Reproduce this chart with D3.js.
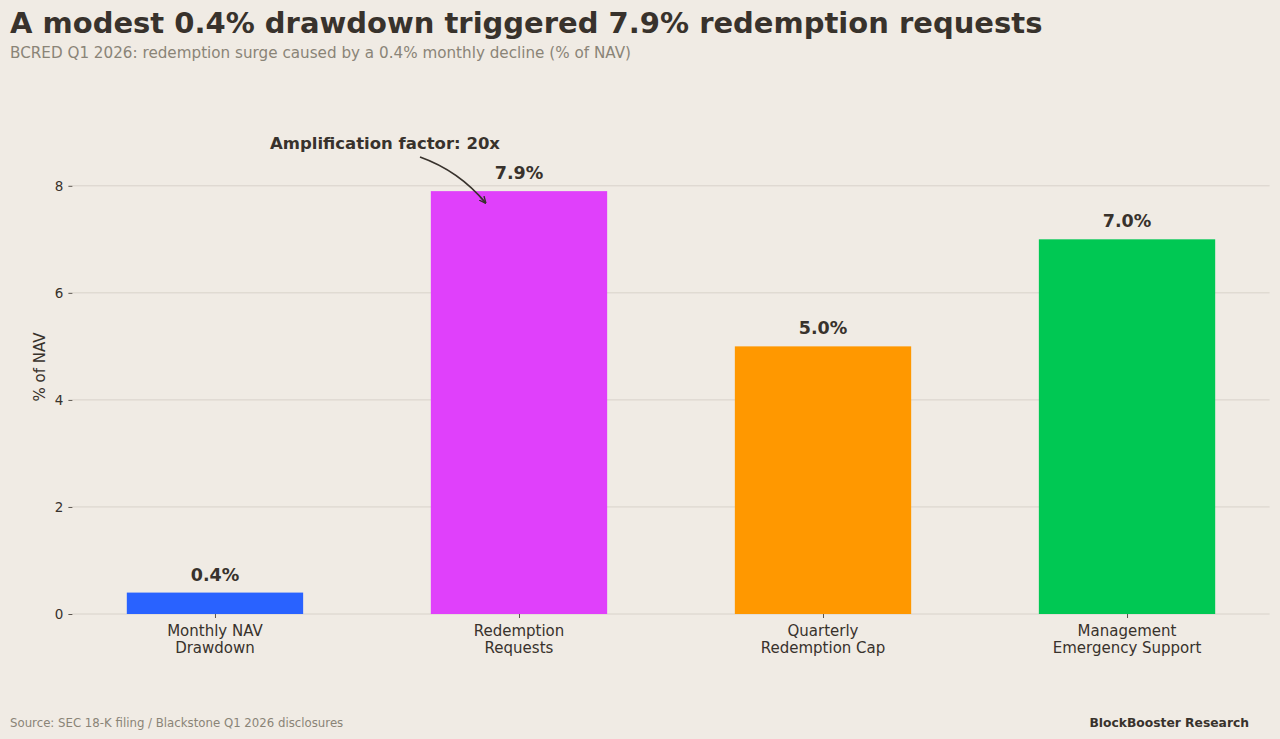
<!DOCTYPE html>
<html><head><meta charset="utf-8">
<script src="https://cdn.jsdelivr.net/npm/d3@7/dist/d3.min.js"></script>
<style>
html,body{margin:0;padding:0;background:#f0ebe4;}
svg{display:block;font-family:"DejaVu Sans",sans-serif;}
</style></head><body>
<svg id="c" width="1280" height="739"></svg>
<script>
const categories = ["Monthly NAV\nDrawdown", "Redemption\nRequests", "Quarterly\nRedemption Cap", "Management\nEmergency Support"];
const values = [0.4, 7.9, 5.0, 7.0];
const colors = ["#2962ff", "#e040fb", "#ff9800", "#00c853"];
const yTicks = [0, 2, 4, 6, 8];
const valueLabels = ["0.4%", "7.9%", "5.0%", "7.0%"];

(function () {
const svg = d3.select("#c");
const W = 1280, H = 739;
const pL = 72.4, pR = 1269.6, pT = 170, pB = 614;
const ink = "#38322c";

svg.append("rect").attr("width", W).attr("height", H).attr("fill", "#f0ebe4");

const barW = 0.58;
const xs = d3.scaleLinear().domain([-0.469, 3.469]).range([pL, pR]);
const y = d3.scaleLinear().domain([0, 8.295]).range([pB, pT]);

// gridlines
svg.append("g").selectAll("line").data(yTicks).join("line")
  .attr("x1", pL).attr("x2", pR)
  .attr("y1", d => y(d)).attr("y2", d => y(d))
  .attr("stroke", "#d8d2ca").attr("stroke-width", 1);

// y axis
const yAxis = d3.axisLeft(y).tickValues(yTicks).tickSize(4).tickPadding(5).tickFormat(d3.format("d"));
const gy = svg.append("g").attr("transform", `translate(${pL},0)`).call(yAxis);
gy.select(".domain").remove();
gy.selectAll(".tick line").attr("stroke", "#5a544d").attr("stroke-width", 1);
gy.selectAll(".tick text").attr("fill", ink).attr("font-size", 13.5).attr("font-family", "DejaVu Sans");

// bars
svg.append("g").selectAll("rect").data(values).join("rect")
  .attr("x", (d, i) => xs(i - barW / 2))
  .attr("width", (d, i) => xs(i + barW / 2) - xs(i - barW / 2))
  .attr("y", d => y(d))
  .attr("height", d => y(0) - y(d))
  .attr("fill", (d, i) => colors[i]);

// x axis
const xAxis = d3.axisBottom(xs).tickValues([0, 1, 2, 3]).tickSize(4).tickFormat("");
const gx = svg.append("g").attr("transform", `translate(0,${pB})`).call(xAxis);
gx.select(".domain").remove();
gx.selectAll(".tick line").attr("stroke", "#5a544d");
categories.forEach((c, i) => {
  const t = svg.append("text").attr("text-anchor", "middle").attr("fill", ink)
    .attr("font-size", 15).attr("x", xs(i));
  c.split("\n").forEach((ln, j) => {
    t.append("tspan").attr("x", xs(i)).attr("y", 636 + j * 17).text(ln);
  });
});

// value labels
svg.append("g").selectAll("text").data(values).join("text")
  .attr("x", (d, i) => xs(i)).attr("y", d => y(d) - 12)
  .attr("text-anchor", "middle").attr("font-weight", "bold").attr("font-size", 17.5)
  .attr("fill", ink).text((d, i) => valueLabels[i]);

// y label
svg.append("text").attr("transform", `translate(45,367) rotate(-90)`)
  .attr("text-anchor", "middle").attr("font-size", 15).attr("fill", ink).text("% of NAV");

// annotation
svg.append("text").attr("x", 270).attr("y", 149).attr("font-weight", "bold")
  .attr("font-size", 16.5).attr("fill", ink).text("Amplification factor: 20x");
const ax0 = 420, ay0 = 157, ax1 = xs(0.89), ay1 = y(7.68);
svg.append("defs").append("marker").attr("id", "ah").attr("viewBox", "0 0 10 10")
  .attr("refX", 9).attr("refY", 5).attr("markerWidth", 7).attr("markerHeight", 7)
  .attr("markerUnits", "userSpaceOnUse")
  .attr("orient", "auto-start-reverse").append("path")
  .attr("d", "M0,0.5 L10,5 L0,9.5").attr("fill", "none").attr("stroke", ink).attr("stroke-width", 2);
const mx = (ax0 + ax1) / 2, my = (ay0 + ay1) / 2;
const dx = ax1 - ax0, dy = ay1 - ay0, L = Math.hypot(dx, dy);
const cx = mx + (dy / L) * 11, cy = my - (dx / L) * 11;
svg.append("path")
  .attr("d", `M${ax0},${ay0} Q${cx},${cy} ${ax1},${ay1}`)
  .attr("fill", "none").attr("stroke", ink).attr("stroke-width", 1.8).attr("marker-end", "url(#ah)");

// titles
svg.append("text").attr("x", 10).attr("y", 33).attr("font-weight", "bold").attr("font-size", 29)
  .attr("fill", ink).text("A modest 0.4% drawdown triggered 7.9% redemption requests");
svg.append("text").attr("x", 10).attr("y", 57.5).attr("font-size", 15.2)
  .attr("fill", "#8a8477").text("BCRED Q1 2026: redemption surge caused by a 0.4% monthly decline (% of NAV)");

// footer
svg.append("text").attr("x", 10).attr("y", 727).attr("font-size", 11.75)
  .attr("fill", "#8a8477").text("Source: SEC 18-K filing / Blackstone Q1 2026 disclosures");
svg.append("text").attr("x", 1249).attr("y", 727).attr("font-size", 12.3).attr("font-weight", "bold")
  .attr("text-anchor", "end").attr("fill", ink).text("BlockBooster Research");
})();
</script>
</body></html>
